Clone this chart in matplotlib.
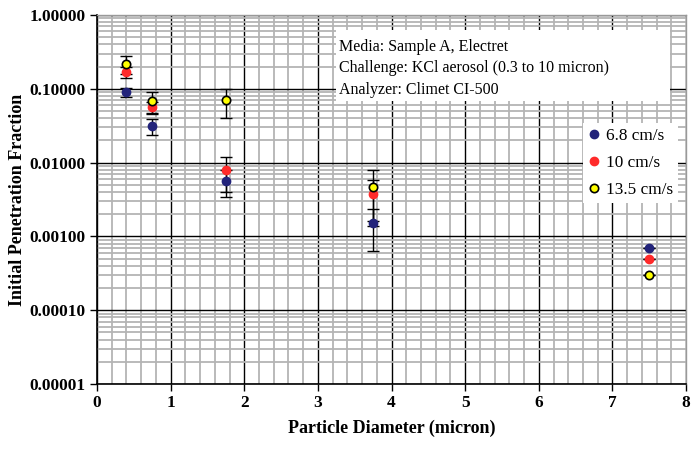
import matplotlib.pyplot as plt
from matplotlib.patches import Rectangle
from matplotlib.ticker import FixedLocator, MultipleLocator, LogLocator, NullFormatter

# particle sizes (micron) and penetration at three face velocities
diam = [0.4, 0.75, 1.75, 3.75, 7.5]
pen_68 = [0.09, 0.031, 0.0057, 0.0015, 0.0007]
err_68 = [0.013, 0.0075, 0.0023, 0.00087, 0.0]
pen_10 = [0.17, 0.057, 0.008, 0.0037, 0.0005]
err_10 = [0.03, 0.01, 0.004, 0.0021, 0.0]
pen_135 = [0.22, 0.069, 0.07, 0.0047, 0.0003]
err_135 = [0.06, 0.023, 0.03, 0.0033, 0.0]

yticks = [1e-5, 1e-4, 1e-3, 1e-2, 1e-1, 1.0]
ytick_labels = ['0.00001', '0.00010', '0.00100', '0.01000', '0.10000', '1.00000']

serif = 'Liberation Serif'

fig = plt.figure(figsize=(6.93, 4.51), dpi=100)
ax = fig.add_axes([0.140, 0.1486, 0.850, 0.818])

ax.set_yscale('log')
ax.set_xlim(0, 8)
ax.set_ylim(1e-5, 1.0)

ax.xaxis.set_major_locator(MultipleLocator(1))
ax.xaxis.set_minor_locator(MultipleLocator(0.2))
ax.yaxis.set_major_locator(FixedLocator(yticks))
ax.yaxis.set_minor_locator(LogLocator(base=10, subs=range(2, 10)))
ax.yaxis.set_minor_formatter(NullFormatter())
ax.set_yticklabels(ytick_labels)

ax.grid(which='minor', color='#b4b4b4', linewidth=1.3, zorder=0)
ax.grid(which='major', color='black', linewidth=1.0, zorder=0.5)
ax.set_axisbelow(True)

ax.tick_params(which='major', direction='out', length=5, width=1, color='black',
               labelsize=12.4, pad=3)
ax.tick_params(which='minor', length=0)
for lab in ax.get_xticklabels() + ax.get_yticklabels():
    lab.set_fontfamily(serif)
    lab.set_fontweight('bold')

for side in ['left', 'bottom']:
    ax.spines[side].set_color('black')
    ax.spines[side].set_linewidth(1.2)
for side in ['top', 'right']:
    ax.spines[side].set_color('#999999')
    ax.spines[side].set_linewidth(1.0)

ekw = dict(fmt='none', ecolor='black', elinewidth=1.0, capsize=4, capthick=1.0, zorder=3)
ax.errorbar(diam, pen_68, yerr=err_68, **ekw)
ax.errorbar(diam, pen_10, yerr=err_10, **ekw)
ax.errorbar(diam, pen_135, yerr=err_135, **ekw)

ax.plot(diam, pen_68, 'o', color='#22237a', markeredgecolor='#22237a', markersize=6,
        linestyle='none', label='6.8 cm/s', zorder=4)
ax.plot(diam, pen_10, 'o', color='#ff2a2a', markeredgecolor='#ff2a2a', markersize=6,
        linestyle='none', label='10 cm/s', zorder=4)
ax.plot(diam, pen_135, 'o', color='#ffff00', markeredgecolor='black', markeredgewidth=1.2,
        markersize=6, linestyle='none', label='13.5 cm/s', zorder=4)

ax.set_xlabel('Particle Diameter (micron)', fontfamily=serif, fontweight='bold',
              fontsize=13, labelpad=6)
ax.set_ylabel('Initial Penetration Fraction', fontfamily=serif, fontweight='bold',
              fontsize=13, labelpad=3)

leg = ax.legend(loc='upper right', bbox_to_anchor=(0.986, 0.707), frameon=True,
                prop={'family': serif, 'size': 12.4}, handletextpad=0.3,
                handlelength=0.7, borderpad=0.3, labelspacing=0.62, fancybox=False,
                borderaxespad=0)
leg.get_frame().set_edgecolor('none')
leg.get_frame().set_facecolor('white')
leg.get_frame().set_alpha(1)

# white panel behind the test conditions note
ax.add_patch(Rectangle((0.406, 0.767), 0.567, 0.192, transform=ax.transAxes,
                       facecolor='white', edgecolor='none', zorder=5))
ax.text(0.411, 0.935, 'Media: Sample A, Electret\n'
        'Challenge: KCl aerosol (0.3 to 10 micron)\n'
        'Analyzer: Climet CI-500',
        transform=ax.transAxes, ha='left', va='top', fontfamily=serif, fontsize=11.5,
        linespacing=1.45, zorder=6)

fig.savefig('out.png', dpi=100)
